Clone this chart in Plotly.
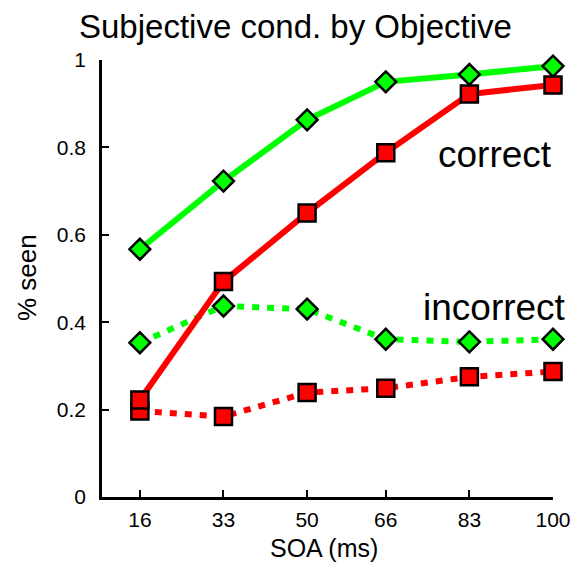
import plotly.graph_objects as go

# Stimulus onset asynchrony (ms)
soa = [16, 33, 50, 66, 83, 100]
soa_labels = ["16", "33", "50", "66", "83", "100"]

# Proportion of trials rated "seen", split by objective accuracy
seen_correct_green = [0.567, 0.723, 0.863, 0.950, 0.967, 0.986]
seen_correct_red = [0.222, 0.493, 0.650, 0.788, 0.922, 0.943]
seen_incorrect_green = [0.353, 0.437, 0.430, 0.361, 0.355, 0.361]
seen_incorrect_red = [0.197, 0.184, 0.239, 0.249, 0.275, 0.287]

y_ticks = [0, 0.2, 0.4, 0.6, 0.8, 1]
y_tick_labels = ["0", "0.2", "0.4", "0.6", "0.8", "1"]

GREEN = "#00ff00"
RED = "#ff0000"
DOT = "7px,8px"
FONT = "Liberation Sans, Arial, sans-serif"

# plot area in pixels
L, R, T, B = 102, 553, 60, 497
W, H = R - L, B - T


def px(x):
    return (x - L) / W


def py(y):
    return (B - y) / H


fig = go.Figure()


def add_series(y, color, symbol, size, dash):
    fig.add_trace(go.Scatter(
        x=soa, y=y, mode="lines+markers",
        line=dict(color=color, width=6, dash=dash),
        marker=dict(symbol=symbol, size=size, color=color,
                    line=dict(color="black", width=2.5)),
        showlegend=False, cliponaxis=False,
    ))


add_series(seen_incorrect_red, RED, "square", 17, DOT)
add_series(seen_incorrect_green, GREEN, "diamond", 16, DOT)
add_series(seen_correct_red, RED, "square", 17, "solid")
add_series(seen_correct_green, GREEN, "diamond", 16, "solid")

fig.update_layout(
    width=575, height=565,
    margin=dict(l=L, r=575 - R, t=T, b=565 - B),
    paper_bgcolor="white", plot_bgcolor="white",
    font=dict(family=FONT, color="black", size=21),
    xaxis=dict(
        range=[8.3, 100], tickmode="array", tickvals=soa, ticktext=soa_labels,
        showline=True, linecolor="black", linewidth=2.5, showgrid=False,
        zeroline=False, ticks="inside", ticklen=7, tickwidth=2, tickcolor="black",
        tickfont=dict(size=21), ticklabelstandoff=2, automargin=False,
    ),
    yaxis=dict(
        range=[0, 1], tickmode="array", tickvals=y_ticks, ticktext=y_tick_labels,
        showline=True, linecolor="black", linewidth=2.5, showgrid=False,
        zeroline=False, ticks="inside", ticklen=7, tickwidth=2, tickcolor="black",
        tickfont=dict(size=21), ticklabelstandoff=9, automargin=False,
    ),
    annotations=[
        dict(text="Subjective cond. by Objective", xref="paper", yref="paper",
             x=px(295), y=py(26), xanchor="center", yanchor="middle",
             showarrow=False, font=dict(size=33)),
        dict(text="% seen", xref="paper", yref="paper", x=px(27), y=py(278),
             textangle=-90, xanchor="center", yanchor="middle",
             showarrow=False, font=dict(size=26)),
        dict(text="SOA (ms)", xref="paper", yref="paper", x=px(324), y=py(564),
             xanchor="center", yanchor="bottom",
             showarrow=False, font=dict(size=25)),
        dict(text="correct", xref="paper", yref="paper", x=px(495), y=py(154),
             xanchor="center", yanchor="middle", showarrow=False, font=dict(size=37)),
        dict(text="incorrect", xref="paper", yref="paper", x=px(494), y=py(307),
             xanchor="center", yanchor="middle", showarrow=False, font=dict(size=37)),
    ],
)

fig.write_html("out.html")
